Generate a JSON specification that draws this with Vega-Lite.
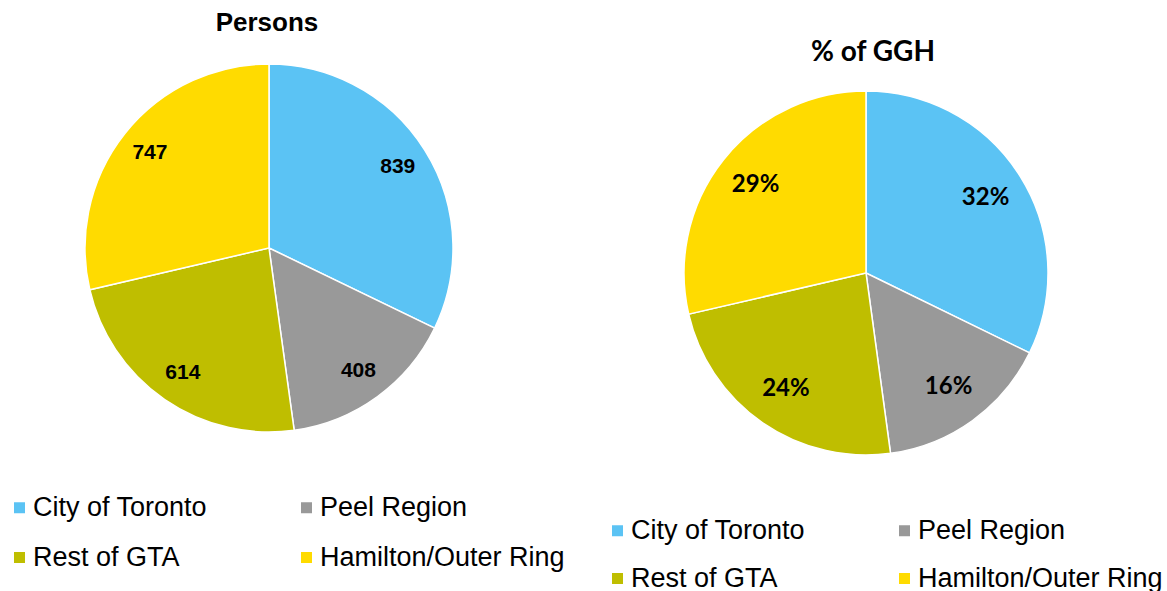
{
  "$schema": "https://vega.github.io/schema/vega-lite/v6.json",
  "background": "white",
  "padding": {"left": 6, "top": 10, "right": 0, "bottom": 0},
  "datasets": {
    "persons": [
      {"region": "City of Toronto", "order": 1, "value": 839, "label": "839"},
      {"region": "Peel Region", "order": 2, "value": 408, "label": "408"},
      {"region": "Rest of GTA", "order": 3, "value": 614, "label": "614"},
      {"region": "Hamilton/Outer Ring", "order": 4, "value": 747, "label": "747"}
    ],
    "share": [
      {"region": "City of Toronto", "order": 1, "pct": 32.2, "label": "32%"},
      {"region": "Peel Region", "order": 2, "pct": 15.6, "label": "16%"},
      {"region": "Rest of GTA", "order": 3, "pct": 23.5, "label": "24%"},
      {"region": "Hamilton/Outer Ring", "order": 4, "pct": 28.6, "label": "29%"}
    ]
  },
  "spacing": 231,
  "bounds": "flush",
  "resolve": {"scale": {"color": "independent"}, "legend": {"color": "independent"}},
  "hconcat": [
    {
      "width": 368,
      "height": 368,
      "title": {"text": "Persons", "font": "Liberation Sans", "fontSize": 26, "fontWeight": "bold", "color": "black", "offset": 25, "dx": -2},
      "data": {"name": "persons"},
      "encoding": {
        "theta": {"field": "value", "type": "quantitative", "stack": true},
        "order": {"field": "order", "type": "quantitative"},
        "color": {
          "field": "region",
          "type": "nominal",
          "scale": {
            "domain": ["City of Toronto", "Peel Region", "Rest of GTA", "Hamilton/Outer Ring"],
            "range": ["#5BC3F4", "#999999", "#BFBE00", "#FFDB00"]
          },
          "legend": {
            "orient": "none", "legendX": -79, "legendY": 430, "columns": 2, "direction": "horizontal", "title": null, "padding": 0,
            "symbolType": "square", "symbolSize": 121, "symbolStrokeWidth": 0, "symbolOpacity": 1,
            "labelFont": "Liberation Sans", "labelFontSize": 27, "labelColor": "black", "labelOffset": 0,
            "columnPadding": 85, "rowPadding": 22, "labelLimit": 400
          }
        }
      },
      "layer": [
        {"mark": {"type": "arc", "outerRadius": 184, "stroke": "white", "strokeWidth": 1.5}},
        {
          "mark": {"type": "text", "radius": 152, "font": "Liberation Sans", "fontSize": 21, "fontWeight": "bold"},
          "encoding": {"text": {"field": "label"}, "color": {"value": "black"}}
        }
      ]
    },
    {
      "width": 364,
      "height": 418,
      "title": {"text": "% of GGH", "font": "Lato", "fontSize": 28, "fontWeight": "bold", "color": "black", "offset": -3, "dx": 7},
      "data": {"name": "share"},
      "encoding": {
        "theta": {"field": "pct", "type": "quantitative", "stack": true},
        "order": {"field": "order", "type": "quantitative"},
        "color": {
          "field": "region",
          "type": "nominal",
          "scale": {
            "domain": ["City of Toronto", "Peel Region", "Rest of GTA", "Hamilton/Outer Ring"],
            "range": ["#5BC3F4", "#999999", "#BFBE00", "#FFDB00"]
          },
          "legend": {
            "orient": "none", "legendX": -80, "legendY": 453, "columns": 2, "direction": "horizontal", "title": null, "padding": 0,
            "symbolType": "square", "symbolSize": 121, "symbolStrokeWidth": 0, "symbolOpacity": 1,
            "labelFont": "Liberation Sans", "labelFontSize": 27, "labelColor": "black", "labelOffset": 0,
            "columnPadding": 85, "rowPadding": 20, "labelLimit": 400
          }
        }
      },
      "layer": [
        {"mark": {"type": "arc", "outerRadius": 182, "stroke": "white", "strokeWidth": 1.5}},
        {
          "mark": {"type": "text", "radius": 141, "font": "Lato", "fontSize": 24, "fontWeight": "bold"},
          "encoding": {"text": {"field": "label"}, "color": {"value": "black"}}
        }
      ]
    }
  ],
  "config": {"view": {"stroke": null}}
}
